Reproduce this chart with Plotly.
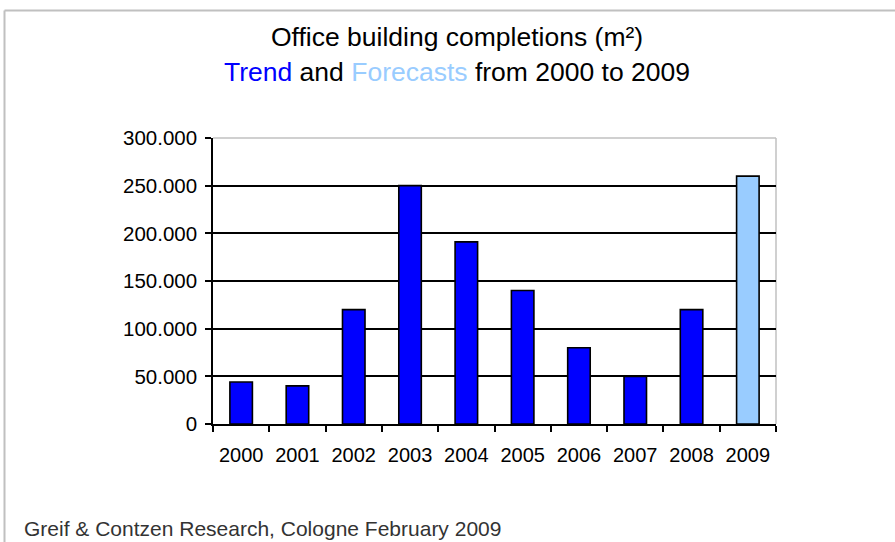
import plotly.graph_objects as go

# Office building completions in m², 2000-2008 actual trend, 2009 forecast
years = ["2000", "2001", "2002", "2003", "2004", "2005", "2006", "2007", "2008", "2009"]
completions = [44000, 40000, 120000, 250000, 191000, 140000, 80000, 50000, 120000, 260000]
is_forecast = [False] * 9 + [True]

TREND_BLUE = "#0000ff"
FORECAST_BLUE = "#99ccff"
bar_colors = [FORECAST_BLUE if f else TREND_BLUE for f in is_forecast]

W, H = 895, 542
L, R, T, B = 213, 119, 138, 118
PW, PH = W - L - R, H - T - B


def px_x(x):
    return (x - L) / PW


def px_y(y):
    return (H - B - y) / PH


FONT = "Liberation Sans, Arial, Helvetica, sans-serif"

fig = go.Figure(
    go.Bar(
        x=years,
        y=completions,
        marker=dict(color=bar_colors, line=dict(color="black", width=1.6)),
        hoverinfo="x+y",
    )
)

fig.update_layout(
    width=W,
    height=H,
    margin=dict(l=L, r=R, t=T, b=B),
    paper_bgcolor="white",
    plot_bgcolor="white",
    separators=",.",
    bargap=0.6,
    showlegend=False,
    font=dict(family=FONT, size=20, color="black"),
)

fig.update_yaxes(
    range=[0, 300000],
    tickvals=[0, 50000, 100000, 150000, 200000, 250000, 300000],
    tickformat=",.0f",
    tickfont=dict(size=20.5),
    showgrid=True,
    gridcolor="black",
    gridwidth=1.5,
    showline=True,
    linecolor="black",
    linewidth=1.5,
    ticks="outside",
    ticklen=6,
    tickwidth=1.5,
    tickcolor="black",
    ticklabelstandoff=4,
    zeroline=False,
    fixedrange=True,
)

fig.update_xaxes(
    type="category",
    tickson="boundaries",
    ticks="outside",
    ticklen=6,
    tickwidth=1.5,
    tickcolor="black",
    tickfont=dict(size=20),
    tickangle=0,
    ticklabelstandoff=12,
    showline=True,
    linecolor="black",
    linewidth=1.5,
    showgrid=False,
    fixedrange=True,
)

shapes = [
    # outer frame
    dict(type="line", xref="paper", yref="paper",
         x0=px_x(4.5), x1=px_x(W + 5), y0=px_y(10.5), y1=px_y(10.5),
         line=dict(color="#c0c0c0", width=2)),
    dict(type="line", xref="paper", yref="paper",
         x0=px_x(4.5), x1=px_x(4.5), y0=px_y(10.5), y1=px_y(H + 5),
         line=dict(color="#c0c0c0", width=2)),
    # plot area border (top and right)
    dict(type="line", xref="paper", yref="paper",
         x0=0, x1=1, y0=1, y1=1, line=dict(color="#c0c0c0", width=1.5), layer="above"),
    dict(type="line", xref="paper", yref="paper",
         x0=1, x1=1, y0=0, y1=1, line=dict(color="#c0c0c0", width=1.5), layer="below"),
]

annotations = [
    dict(text="Office building completions (m²)", x=px_x(456.5), y=px_y(37),
         xref="paper", yref="paper", showarrow=False, xanchor="center", yanchor="middle",
         font=dict(size=26.5, color="black", family=FONT)),
    dict(text=(f"<span style='color:{TREND_BLUE}'>Trend</span> and "
               f"<span style='color:{FORECAST_BLUE}'>Forecasts</span> from 2000 to 2009"),
         x=px_x(456.5), y=px_y(72), xref="paper", yref="paper", showarrow=False,
         xanchor="center", yanchor="middle", font=dict(size=26.5, color="black", family=FONT)),
    dict(text="Greif &amp; Contzen Research, Cologne February 2009", x=px_x(22), y=px_y(528),
         xref="paper", yref="paper", showarrow=False, xanchor="left", yanchor="middle",
         font=dict(size=21, color="#333333", family=FONT)),
]

fig.update_layout(shapes=shapes, annotations=annotations)

fig.write_html("out.html")
